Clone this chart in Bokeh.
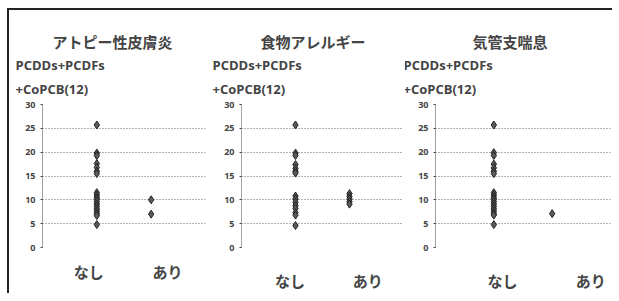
from bokeh.plotting import figure
from bokeh.models import Range1d, FixedTicker, Title, ColumnDataSource
from bokeh.layouts import row
from bokeh.embed import file_html
from bokeh.resources import INLINE

categories = ["なし", "あり"]
titles = ["アトピー性皮膚炎", "食物アレルギー", "気管支喘息"]
ylabel_lines = ["PCDDs+PCDFs", "+CoPCB(12)"]
y_ticks = [0, 5, 10, 15, 20, 25, 30]

atopy_nashi = [25.7, 19.8, 19.3, 17.6, 16.8, 16.0, 15.5, 11.5, 11.0, 10.5, 10.1, 9.6, 9.1, 8.6, 8.1, 7.6, 7.1, 6.7, 4.8]
atopy_ari = [10.0, 7.0]
food_nashi = [25.7, 19.8, 19.3, 17.4, 16.6, 16.0, 15.6, 10.8, 10.2, 9.5, 8.8, 8.2, 7.3, 6.8, 4.6]
food_ari = [11.3, 10.7, 10.2, 9.6, 9.1]
asthma_nashi = [25.7, 19.9, 19.3, 17.5, 16.7, 16.0, 15.5, 11.5, 11.0, 10.5, 10.1, 9.6, 9.1, 8.6, 8.1, 7.6, 7.1, 6.8, 4.8]
asthma_ari = [7.1]

panels = [
    dict(title=titles[0], nashi=atopy_nashi, ari=atopy_ari, width=198, left=33, right=2,
         title_off=10, ylab_off=-27, lab_ticks=[0.85, 2.30], lab_standoff=13),
    dict(title=titles[1], nashi=food_nashi, ari=food_ari, width=198, left=34, right=2,
         title_off=19, ylab_off=-29, lab_ticks=[0.90, 2.34], lab_standoff=22),
    dict(title=titles[2], nashi=asthma_nashi, ari=asthma_ari, width=207, left=30, right=2,
         title_off=37, ylab_off=-32, lab_ticks=[1.15, 2.66], lab_standoff=22),
]

JP = "Noto Sans CJK JP"
figs = []
for pc in panels:
    xs = [1] * len(pc["nashi"]) + [2] * len(pc["ari"])
    ys = pc["nashi"] + pc["ari"]
    src = ColumnDataSource(dict(x=xs, y=ys))
    p = figure(width=pc["width"], height=269, output_backend="svg", toolbar_location=None,
               x_range=Range1d(0, 3), y_range=Range1d(0, 30),
               min_border_left=pc["left"], min_border_right=pc["right"],
               min_border_bottom=46, min_border_top=0, title=None)
    p.outline_line_color = None
    p.background_fill_color = "white"
    p.border_fill_color = "white"
    p.add_layout(Title(text=ylabel_lines[1], align="left", offset=pc["ylab_off"],
                       text_font="Open Sans", text_font_size="13px", text_font_style="bold",
                       standoff=13), "above")
    p.add_layout(Title(text=ylabel_lines[0], align="left", offset=pc["ylab_off"],
                       text_font="Open Sans", text_font_size="13px", text_font_style="bold",
                       standoff=-5), "above")
    p.add_layout(Title(text=pc["title"], align="left", offset=pc["title_off"],
                       text_font=JP, text_font_size="15px", text_font_style="bold",
                       standoff=9), "above")

    p.scatter("x", "y", source=src, marker="diamond", size=8,
              fill_color="#5a5a5a", line_color="#222222", line_width=1)

    p.xgrid.grid_line_color = None
    p.ygrid.ticker = FixedTicker(ticks=y_ticks)
    p.ygrid.grid_line_color = "#666666"
    p.ygrid.grid_line_dash = "1 2"
    p.ygrid.grid_line_width = 1

    p.yaxis.ticker = FixedTicker(ticks=y_ticks)
    p.yaxis.axis_line_dash = "1 1"
    p.yaxis.axis_line_color = "#444444"
    p.yaxis.major_tick_line_color = "#444444"
    p.yaxis.major_tick_out = 2
    p.yaxis.major_tick_in = 0
    p.yaxis.minor_tick_line_color = None
    p.yaxis.major_label_text_font = "Open Sans"
    p.yaxis.major_label_text_font_size = "9px"
    p.yaxis.major_label_text_font_style = "bold"
    p.yaxis.major_label_standoff = 5

    p.xaxis.ticker = FixedTicker(ticks=pc["lab_ticks"])
    p.xaxis.major_label_overrides = {pc["lab_ticks"][0]: categories[0], pc["lab_ticks"][1]: categories[1]}
    p.xaxis.axis_line_color = None
    p.xaxis.major_tick_line_color = None
    p.xaxis.major_tick_out = 0
    p.xaxis.major_tick_in = 0
    p.xaxis.minor_tick_line_color = None
    p.xaxis.minor_tick_out = 0
    p.xaxis.major_label_text_font = JP
    p.xaxis.major_label_text_font_size = "15px"
    p.xaxis.major_label_text_font_style = "bold"
    p.xaxis.major_label_standoff = pc["lab_standoff"]
    figs.append(p)

layout = row(*figs, styles={"margin-top": "8px", "margin-left": "7px", "padding-top": "14px",
                            "border-top": "2px solid #222", "border-left": "2px solid #222"})
open("out.html", "w").write(file_html(layout, INLINE))
